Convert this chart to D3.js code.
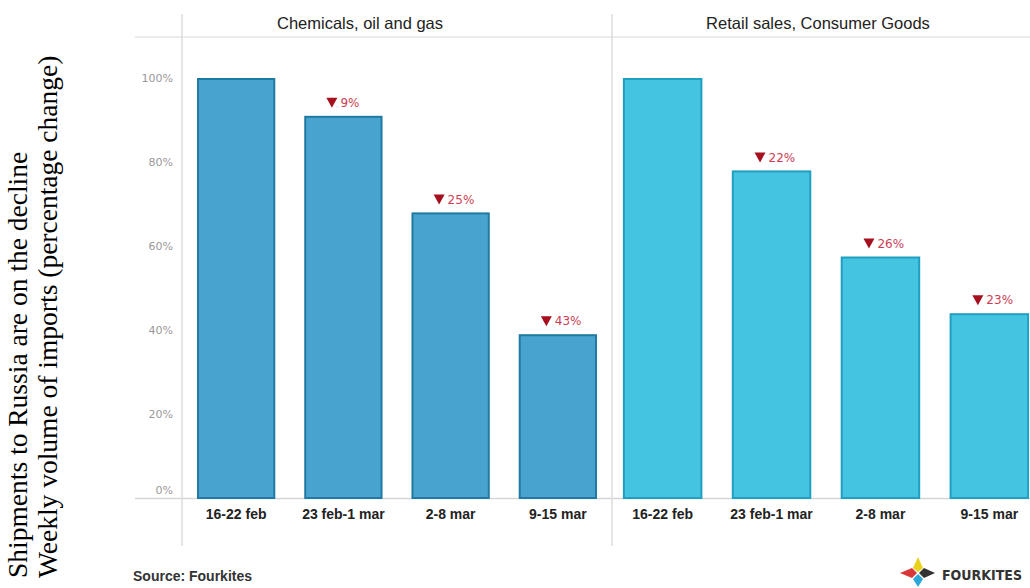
<!DOCTYPE html>
<html>
<head>
<meta charset="utf-8">
<script src="https://cdn.jsdelivr.net/npm/d3@7"></script>
<style>
  body { margin: 0; background: #fff; }
  svg { display: block; font-family: Arial, "Liberation Sans", sans-serif; }
</style>
</head>
<body>
<div id="chart"></div>
<script>
// Data
const weeks = ['16-22 feb', '23 feb-1 mar', '2-8 mar', '9-15 mar']
const panels = ['Chemicals, oil and gas', 'Retail sales, Consumer Goods']
const chemicals = [100, 91, 68, 39]
const retail = [100, 78, 57.5, 44]
const chemicalsDrop = [null, '9%', '25%', '43%']
const retailDrop = [null, '22%', '26%', '23%']
const yTicks = [0, 20, 40, 60, 80, 100]
const titleLines = ['Shipments to Russia are on the decline', 'Weekly volume of imports (percentage change)']
const source = 'Source: Fourkites'

const width = 1030,
  height = 588,
  headerY = 37,
  baseY = 498,
  axisX = 182,
  midX = 612

const svg = d3.select('#chart')
  .append('svg')
  .attr('width', width)
  .attr('height', height)

const y = d3.scaleLinear()
  .domain([0, 100])
  .range([baseY, 78])

// frame lines
svg.append('line')
  .attr('x1', 135).attr('x2', width)
  .attr('y1', headerY).attr('y2', headerY)
  .attr('stroke', '#e4e4e4').attr('stroke-width', 1.5)
svg.append('line')
  .attr('x1', 135).attr('x2', width)
  .attr('y1', baseY + 0.5).attr('y2', baseY + 0.5)
  .attr('stroke', '#d6d6d6').attr('stroke-width', 1.5)
;[axisX, midX].forEach(x => {
  svg.append('line')
    .attr('x1', x).attr('x2', x)
    .attr('y1', 14).attr('y2', 546)
    .attr('stroke', '#dcdcdc').attr('stroke-width', 1.5)
})

// y axis labels
svg.append('g')
  .selectAll('text')
  .data(yTicks)
  .enter()
  .append('text')
  .attr('x', 173)
  .attr('y', d => d === 0 ? y(d) - 8 : y(d))
  .attr('dy', '0.35em')
  .attr('text-anchor', 'end')
  .attr('font-family', '"DejaVu Sans", Verdana, sans-serif')
  .attr('font-size', 11)
  .attr('fill', '#999')
  .text(d => d + '%')

const panelData = [
  { name: panels[0], titleX: 360, values: chemicals, drops: chemicalsDrop, range: [axisX, midX], fill: '#48a4ce', stroke: '#1f7aa3' },
  { name: panels[1], titleX: 818, values: retail, drops: retailDrop, range: [midX, 1040], fill: '#45c4e2', stroke: '#1fa0c0' }
]

panelData.forEach((p, pi) => {
  const x = d3.scaleBand()
    .domain(weeks)
    .range(p.range)
    .paddingInner(0.27)
    .paddingOuter(pi === 0 ? 0.14 : 0.1)

  const g = svg.append('g')

  g.append('text')
    .attr('x', p.titleX)
    .attr('y', 29)
    .attr('text-anchor', 'middle')
    .attr('font-size', 16.5)
    .attr('fill', '#222')
    .text(p.name)

  g.selectAll('rect')
    .data(p.values)
    .enter()
    .append('rect')
    .attr('x', (d, i) => x(weeks[i]) + 1)
    .attr('y', d => y(d) + 1)
    .attr('width', x.bandwidth() - 2)
    .attr('height', d => baseY - y(d) - 1)
    .attr('fill', p.fill)
    .attr('stroke', p.stroke)
    .attr('stroke-width', 2)

  // drop labels
  const lab = g.selectAll('g.drop')
    .data(p.drops.map((d, i) => ({ d, i })).filter(o => o.d))
    .enter()
    .append('g')
    .attr('class', 'drop')
    .attr('transform', o => `translate(${x(weeks[o.i]) + x.bandwidth() / 2}, ${y(p.values[o.i]) - 13})`)
  lab.append('path')
    .attr('d', 'M-17,-5 L-6,-5 L-11.5,5 Z')
    .attr('fill', '#a50f1e')
  lab.append('text')
    .attr('x', -3)
    .attr('y', 0)
    .attr('dy', '0.35em')
    .attr('font-family', '"DejaVu Sans", Verdana, sans-serif')
    .attr('font-size', 12)
    .attr('fill', '#cc3d55')
    .text(o => o.d)

  // x labels
  g.selectAll('text.week')
    .data(weeks)
    .enter()
    .append('text')
    .attr('class', 'week')
    .attr('x', d => x(d) + x.bandwidth() / 2)
    .attr('y', 519)
    .attr('text-anchor', 'middle')
    .attr('font-size', 14)
    .attr('font-weight', 'bold')
    .attr('fill', '#222')
    .text(d => d)
})

// rotated title
svg.append('g')
  .selectAll('text')
  .data(titleLines)
  .enter()
  .append('text')
  .attr('transform', (d, i) => `translate(${27 + i * 30}, 578) rotate(-90)`)
  .attr('font-family', '"Liberation Serif", "Times New Roman", serif')
  .attr('font-size', 27.5)
  .attr('fill', '#000')
  .text(d => d)

// source
svg.append('text')
  .attr('x', 133)
  .attr('y', 581)
  .attr('font-size', 14)
  .attr('font-weight', 'bold')
  .attr('fill', '#333')
  .text(source)

// logo
const logo = svg.append('g').attr('transform', 'translate(918, 573)')
logo.append('path').attr('d', 'M0,-16 L5,-5 L0,-1 L-5,-5 Z').attr('fill', '#e8d21d')
logo.append('path').attr('d', 'M-18,0 L-6,-5 L-1,0 L-6,5 Z').attr('fill', '#d9383a')
logo.append('path').attr('d', 'M0,1 L5,6 L0,14 L-5,6 Z').attr('fill', '#2ba8d8')
logo.append('path').attr('d', 'M1,0 L6,-5 L17,0 L6,5 Z').attr('fill', '#333')
logo.append('text')
  .attr('x', 24)
  .attr('y', 7)
  .attr('font-size', 14)
  .attr('font-weight', 'bold')
  .attr('font-family', '"DejaVu Sans Condensed", "Liberation Sans Narrow", sans-serif')
  .attr('fill', '#333')
  .text('FOURKITES')
</script>
</body>
</html>
